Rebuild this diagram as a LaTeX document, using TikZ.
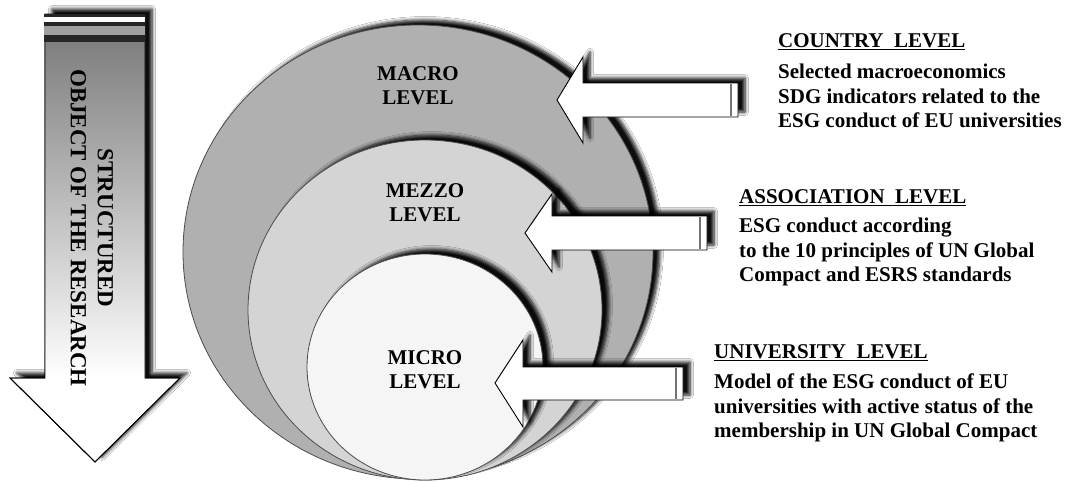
\documentclass[tikz,border=0pt]{standalone}
\usepackage{fontspec}
\setmainfont{Liberation Serif}
\usetikzlibrary{shadows.blur}
\definecolor{macrofill}{gray}{0.69}
\definecolor{mezzofill}{gray}{0.83}
\definecolor{microfill}{gray}{0.96}
\tikzset{
  lvl/.style={font=\fontsize{21}{24}\selectfont\bfseries, align=center, inner sep=0pt, anchor=north},
  headtxt/.style={font=\fontsize{21}{25}\selectfont\bfseries, anchor=base west, inner sep=0pt},
  bodytxt/.style={font=\fontsize{21}{24.5}\selectfont\bfseries, align=left, anchor=north west, inner sep=0pt},
  ring/.style={draw=black!70, line width=0.8pt},
  dshadow/.style={blur shadow={shadow xshift=7pt, shadow yshift=5pt, shadow opacity=95, shadow blur radius=3.5pt, shadow blur steps=6}},
  larrow/.style={fill=white, draw=black, line width=0.9pt, line join=miter},
}
\begin{document}
\begin{tikzpicture}[x=1pt, y=-1pt]
\useasboundingbox (0,0) rectangle (1072,482);
\fill[white] (0,0) rectangle (1072,482);

% ---- left vertical arrow ----
\path[larrow, dshadow] (45,14) -- (145,14) -- (145,378) -- (180,378) -- (95,462) -- (10,378) -- (45,378) -- cycle;
\shade[top color=black!50, middle color=black!18, bottom color=white] (45,42) rectangle (145,378);
\fill[black!85] (44,14) rectangle (145,42);
\fill[white] (44,17) rectangle (145,22);
\fill[gray!75] (44,26) rectangle (145,35);
\draw[black, line width=0.9pt, line join=miter] (45,42) -- (45,378) -- (10,378) -- (95,462) -- (180,378) -- (145,378) -- (145,42);
\node[font=\fontsize{23}{27}\selectfont\bfseries, align=center, rotate=-90, inner sep=0pt] (obj) at (92,228) {STRUCTURED\\OBJECT OF THE RESEARCH};

% ---- circles ----
\path[ring, fill=macrofill, dshadow] (418,252) ellipse [x radius=235pt, y radius=227pt];
\path[ring, fill=mezzofill, dshadow] (425,310) ellipse [x radius=177pt, y radius=170pt];
\path[ring, fill=microfill, dshadow] (425,367) ellipse [x radius=118pt, y radius=113pt];

\node[lvl] (macro) at (418,66) {MACRO\\LEVEL};
\node[lvl] (mezzo) at (425,183) {MEZZO\\LEVEL};
\node[lvl] (micro) at (425,350) {MICRO\\LEVEL};

% ---- level arrows ----
\path[larrow, dshadow] (557,100) -- (583,57) -- (583,83) -- (738,83) -- (738,117) -- (583,117) -- (583,143) -- cycle;
\draw[black!55, line width=1.4pt] (731,84) -- (731,116);
\path[larrow, dshadow] (525,233) -- (552,194) -- (552,216) -- (707,216) -- (707,250) -- (552,250) -- (552,272) -- cycle;
\draw[black!55, line width=1.4pt] (700,217) -- (700,249);
\path[larrow, dshadow] (495,383) -- (523,340) -- (523,367) -- (683,367) -- (683,400) -- (523,400) -- (523,427) -- cycle;
\draw[black!55, line width=1.4pt] (676,368) -- (676,399);

% ---- right texts ----
\node[headtxt] (cty) at (778,47) {\underline{COUNTRY\ \ LEVEL}};
\node[bodytxt] (ctyb) at (778,64) {Selected macroeconomics\\SDG indicators related to the\\ESG conduct of EU universities};
\node[headtxt] (ass) at (739,203) {\underline{ASSOCIATION\ \ LEVEL}};
\node[bodytxt] (assb) at (739,218) {ESG conduct according\\to the 10 principles of UN Global\\Compact and ESRS standards};
\node[headtxt] (uni) at (714,358) {\underline{UNIVERSITY\ \ LEVEL}};
\node[bodytxt] (unib) at (714,374) {Model of the ESG conduct of EU\\universities with active status of the\\membership in UN Global Compact};
\end{tikzpicture}
\end{document}
